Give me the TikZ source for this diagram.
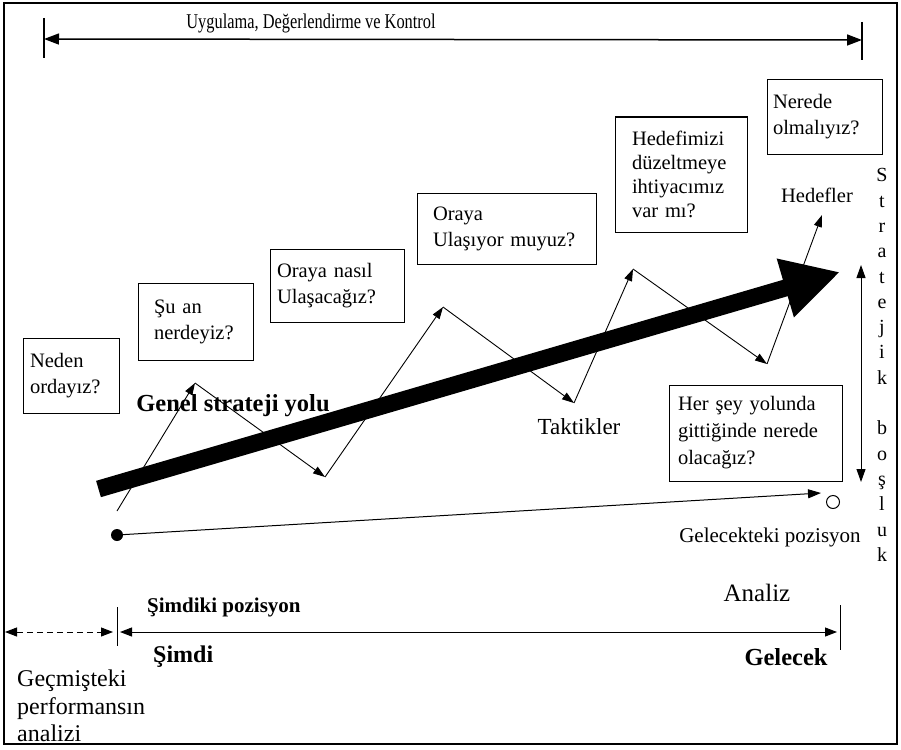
\documentclass[tikz,border=0pt]{standalone}
\usepackage{fontspec}
\setmainfont{Liberation Serif}
\newfontfamily\darfont[FakeStretch=0.78]{Liberation Serif}
\usetikzlibrary{arrows.meta}

\tikzset{
  qbox/.style={draw, line width=1pt, align=left, inner ysep=3pt,
    font=\fontsize{20.5}{26}\selectfont},
  lbl/.style={font=\fontsize{20.5}{26}\selectfont},
  tac/.style={line width=0.9pt, -{Triangle[length=12pt,width=8pt]}},
  ucu/.tip={Triangle[length=13pt,width=9pt]}
}

\begin{document}
\begin{tikzpicture}[x=1pt, y=-1pt]
        \useasboundingbox (0,0) rectangle (901,749);
        \draw[line width=1.5pt] (4,3) rectangle (897,744);
        % ust ok
        \coordinate (ul) at (44,39);
        \coordinate (ur) at (862,40);
        \draw[line width=1.5pt, {Triangle[length=15pt,width=11pt]}-{Triangle[length=15pt,width=11pt]}] (ul) -- (ur);
        \draw[line width=1.5pt] (44,18) -- (44,58);
        \draw[line width=1.5pt] (862,22) -- (862,60);
        \node[font=\darfont\fontsize{21}{24}\selectfont] (baslik) at (311,23) {Uygulama, Değerlendirme ve Kontrol};
        % sorular
        \node[qbox, text width=82pt, inner xsep=7pt, minimum height=75pt] (neden) at (71,375.5) {Neden\\ordayız?};
        \node[qbox, text width=83pt, inner xsep=16pt, minimum height=77pt] (suan) at (195.5,321.5) {Şu an\\nerdeyiz?};
        \node[qbox, text width=120pt, inner xsep=7pt, minimum height=73pt] (nasil) at (337,285.5) {Oraya nasıl\\Ulaşacağız?};
        \node[qbox, text width=147pt, inner xsep=16pt, minimum height=71pt] (ulasiyor) at (506.5,228.5) {Oraya\\Ulaşıyor muyuz?};
        \node[qbox, text width=98pt, inner xsep=17pt, minimum height=115pt, font=\fontsize{20.5}{24}\selectfont] (duzelt) at (681,174.5) {Hedefimizi\\düzeltmeye\\ihtiyacımız\\var mı?};
        \node[qbox, text width=103pt, inner xsep=6pt, minimum height=74pt] (olmali) at (824.5,117) {Nerede\\olmalıyız?};
        \node[qbox, text width=155pt, inner xsep=9pt, minimum height=96pt, font=\fontsize{20.5}{27}\selectfont] (yolunda) at (755.5,433) {Her şey yolunda\\gittiğinde nerede\\olacağız?};
        % genel strateji yolu
        \coordinate (ys) at (98.5,489);
        \coordinate (ye) at (840,272);
        \draw[line width=17pt, -{Triangle[length=57pt,width=57pt]}] (ys) -- (ye);
        \node[font=\bfseries\fontsize{24.5}{28}\selectfont] (genel) at (233,406) {Genel strateji yolu};
        % taktikler
        \coordinate (t0) at (117,511);
        \coordinate (t1) at (195,383);
        \coordinate (t2) at (325,477);
        \coordinate (t3) at (443,307);
        \coordinate (t4) at (574,403);
        \coordinate (t5) at (633,269);
        \coordinate (t6) at (767,364);
        \coordinate (t7) at (822,215);
        \draw[tac] (t0) -- (t1);
        \draw[tac] (t1) -- (t2);
        \draw[tac] (t2) -- (t3);
        \draw[tac] (t3) -- (t4);
        \draw[tac] (t4) -- (t5);
        \draw[tac] (t5) -- (t6);
        \draw[tac] (t6) -- (t7);
        \node[font=\fontsize{23}{26}\selectfont] (taktik) at (579,427) {Taktikler};
        \node[lbl] (hedef) at (817,195) {Hedefler};
        % pozisyonlar
        \node[circle, fill, inner sep=0pt, minimum size=12pt] (simdiki) at (117,535) {};
        \node[circle, draw, line width=1pt, inner sep=0pt, minimum size=13pt] (gelecekO) at (833,502) {};
        \coordinate (pe) at (821,493);
        \draw[line width=1pt, -ucu] (simdiki) -- (pe);
        \node[font=\fontsize{21}{26}\selectfont] (gelecekpoz) at (770,537) {Gelecekteki pozisyon};
        % stratejik bosluk
        \coordinate (bu) at (861,265);
        \coordinate (ba) at (861,482);
        \draw[line width=1pt, ucu-ucu] (bu) -- (ba);
        \node[align=center, inner sep=0pt, font=\fontsize{20}{25.3}\selectfont] (bosluk) at (882,365) {S\\t\\r\\a\\t\\e\\j\\i\\k\\~\\b\\o\\ş\\l\\u\\k};
        % zaman ekseni
        \coordinate (g0) at (5,632);
        \coordinate (g1) at (113,632);
        \coordinate (s0) at (120,632);
        \coordinate (s1) at (837,632);
        \draw[line width=1pt, dash pattern=on 6pt off 4pt, {Triangle[length=12pt,width=9pt]}-{Triangle[length=12pt,width=9pt]}] (g0) -- (g1);
        \draw[line width=1pt, {Triangle[length=12pt,width=9pt]}-{Triangle[length=12pt,width=9pt]}] (s0) -- (s1);
        \draw[line width=1pt] (117,607) -- (117,646);
        \draw[line width=1pt] (840,605) -- (840,650);
        \node[anchor=west, inner sep=0pt, font=\bfseries\fontsize{21}{24}\selectfont] (simdikipoz) at (147,607) {Şimdiki pozisyon};
        \node[anchor=west, inner sep=0pt, font=\bfseries\fontsize{24}{28}\selectfont] (simdi) at (153,657) {Şimdi};
        \node[font=\bfseries\fontsize{24.5}{28}\selectfont] (gelecek) at (786,657) {Gelecek};
        \node[font=\fontsize{25}{28}\selectfont] (analiz) at (757,593) {Analiz};
        \node[anchor=west, align=left, inner sep=0pt, font=\fontsize{24}{27.5}\selectfont] (gecmis) at (17,706) {Geçmişteki\\performansın\\analizi};
    \end{tikzpicture}
\end{document}
